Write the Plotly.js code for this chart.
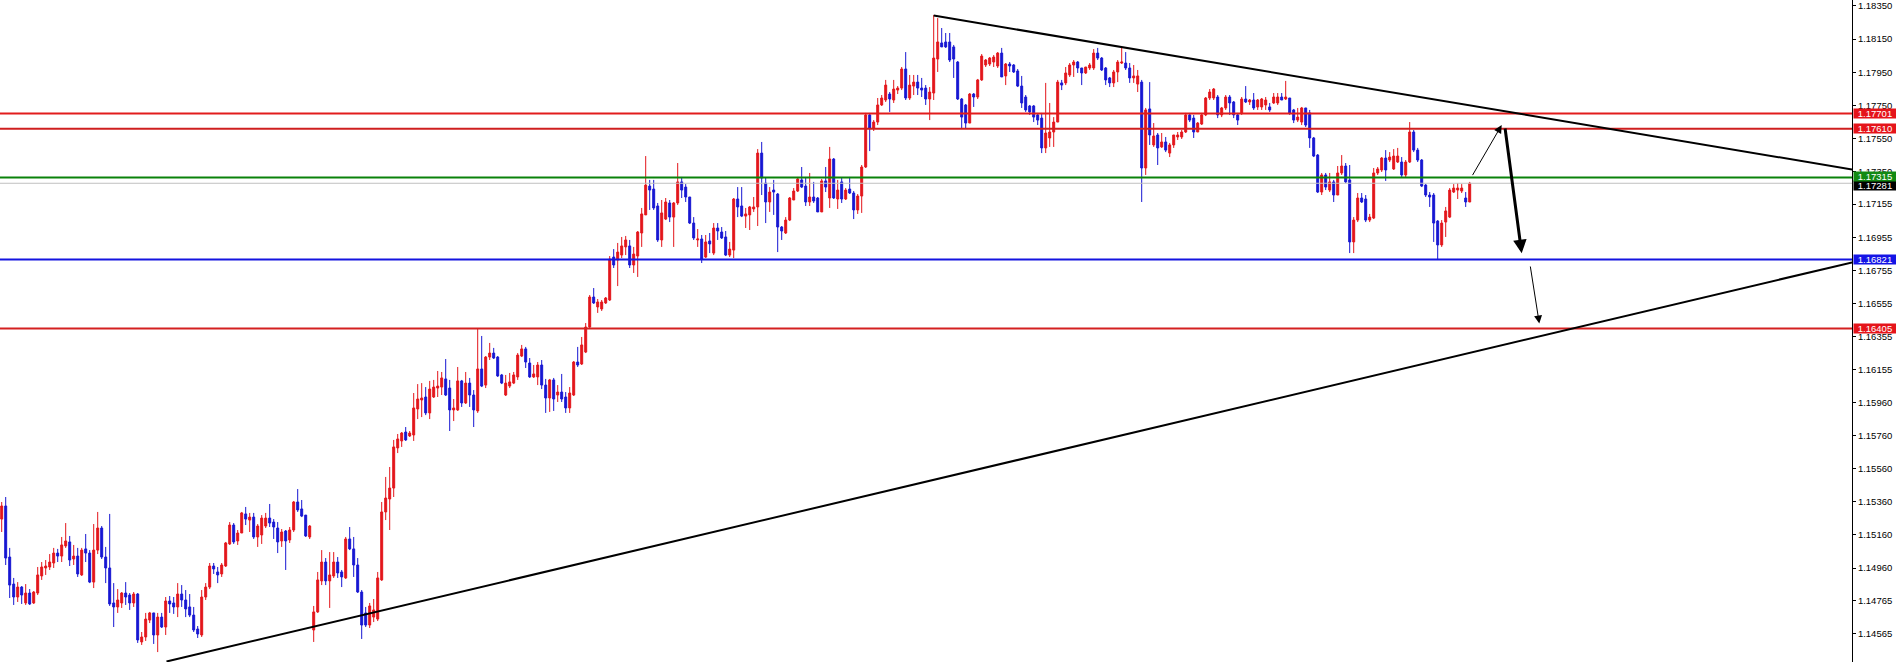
<!DOCTYPE html>
<html>
<head>
<meta charset="utf-8">
<script src="https://cdn.plot.ly/plotly-3.0.1.min.js"></script>
<style>
html,body{margin:0;padding:0;background:#fff;}
#chart{width:1896px;height:662px;}
</style>
</head>
<body>
<div id="chart"></div>
<script>
// ---- Candle data ----
var openP = [1.15256,1.15335,1.15027,1.14864,1.14786,1.14846,1.14750,1.14810,1.14750,1.14810,
1.14913,1.14961,1.14967,1.14991,1.15051,1.15033,1.15094,1.15118,1.15015,1.15033,
1.14919,1.15076,1.15051,1.14876,1.15069,1.15202,1.15027,1.14961,1.14750,1.14726,
1.14750,1.14810,1.14798,1.14750,1.14804,1.14515,1.14545,1.14647,1.14690,1.14557,
1.14665,1.14605,1.14762,1.14750,1.14726,1.14804,1.14768,1.14726,1.14677,1.14593,
1.14557,1.14786,1.14846,1.14973,1.14937,1.14925,1.14973,1.15106,1.15220,1.15124,
1.15172,1.15287,1.15250,1.15268,1.15148,1.15160,1.15214,1.15262,1.15238,1.15202,
1.15124,1.15184,1.15130,1.15190,1.15359,1.15317,1.15280,1.15148,1.14587,1.14696,
1.14883,1.14997,1.14883,1.14913,1.14997,1.14937,1.14901,1.15136,1.15076,1.14979,
1.14816,1.14690,1.14617,1.14665,1.14653,1.14889,1.15299,1.15377,1.15443,1.15685,
1.15727,1.15781,1.15757,1.15763,1.15920,1.15974,1.15992,1.15896,1.15992,1.16046,
1.16052,1.16101,1.16046,1.15914,1.15914,1.16089,1.15956,1.16076,1.16004,1.15908,
1.16161,1.16064,1.16233,1.16257,1.16233,1.16125,1.16004,1.16058,1.16076,1.16113,
1.16239,1.16282,1.16197,1.16113,1.16113,1.16185,1.16064,1.15986,1.16095,1.16004,
1.16022,1.15992,1.15926,1.16004,1.16203,1.16191,1.16263,1.16414,1.16595,1.16535,
1.16523,1.16559,1.16577,1.16836,1.16818,1.16848,1.16897,1.16903,1.16788,1.16842,
1.16981,1.17090,1.17264,1.17246,1.17144,1.16939,1.17065,1.17162,1.17077,1.17162,
1.17289,1.17258,1.17198,1.17041,1.16939,1.16945,1.16836,1.16933,1.16860,1.17011,
1.16987,1.16957,1.16848,1.16878,1.17186,1.17144,1.17083,1.17090,1.17126,1.17138,
1.17463,1.17282,1.17168,1.17240,1.17216,1.17017,1.16981,1.17059,1.17180,1.17234,
1.17301,1.17264,1.17168,1.17198,1.17192,1.17108,1.17295,1.17192,1.17427,1.17186,
1.17289,1.17186,1.17246,1.17222,1.17120,1.17204,1.17379,1.17693,1.17614,1.17650,
1.17753,1.17783,1.17819,1.17783,1.17843,1.17855,1.17970,1.17795,1.17867,1.17891,
1.17855,1.17855,1.17789,1.17825,1.18030,1.18127,1.18133,1.18133,1.18103,1.18012,
1.17789,1.17753,1.17644,1.17819,1.17801,1.17904,1.17994,1.18000,1.18012,1.17988,
1.18066,1.17928,1.18000,1.17994,1.17958,1.17867,1.17801,1.17747,1.17747,1.17693,
1.17674,1.17494,1.17554,1.17590,1.17650,1.17886,1.17886,1.17934,1.17994,1.18012,
1.17976,1.17946,1.17976,1.17976,1.18066,1.18036,1.17976,1.17916,1.17886,1.17952,
1.18006,1.18006,1.17976,1.17916,1.17879,1.17891,1.17373,1.17729,1.17512,1.17572,
1.17500,1.17530,1.17463,1.17512,1.17560,1.17560,1.17590,1.17693,1.17674,1.17590,
1.17638,1.17693,1.17795,1.17795,1.17801,1.17693,1.17735,1.17801,1.17771,1.17693,
1.17705,1.17789,1.17771,1.17783,1.17741,1.17741,1.17753,1.17741,1.17765,1.17765,
1.17801,1.17789,1.17795,1.17723,1.17662,1.17650,1.17735,1.17705,1.17554,1.17451,
1.17228,1.17331,1.17240,1.17289,1.17210,1.17343,1.17385,1.17301,1.16927,1.17059,
1.17192,1.17186,1.17059,1.17071,1.17343,1.17361,1.17433,1.17421,1.17367,1.17409,
1.17409,1.17331,1.17409,1.17590,1.17481,1.17421,1.17270,1.17210,1.17210,1.17053,
1.16909,1.17047,1.17077,1.17228,1.17240,1.17234,1.17192,1.17168];

var highP = [1.15359,1.15389,1.15082,1.14901,1.14876,1.14852,1.14864,1.14834,1.14822,1.14967,
1.14997,1.15009,1.15045,1.15082,1.15076,1.15148,1.15232,1.15154,1.15100,1.15082,
1.15082,1.15166,1.15069,1.15226,1.15299,1.15214,1.15088,1.15287,1.14870,1.14834,
1.14816,1.14876,1.14810,1.14816,1.14810,1.14575,1.14690,1.14696,1.14690,1.14690,
1.14690,1.14786,1.14792,1.14786,1.14870,1.14858,1.14828,1.14804,1.14726,1.14611,
1.14828,1.14870,1.14991,1.14991,1.14967,1.14991,1.15118,1.15238,1.15232,1.15190,
1.15299,1.15329,1.15293,1.15293,1.15226,1.15280,1.15293,1.15347,1.15256,1.15238,
1.15196,1.15190,1.15208,1.15365,1.15437,1.15371,1.15280,1.15220,1.14732,1.14937,
1.15069,1.15021,1.15057,1.15057,1.15027,1.14949,1.15148,1.15208,1.15148,1.15021,
1.14828,1.14726,1.14750,1.14774,1.14937,1.15359,1.15510,1.15570,1.15733,1.15769,
1.15781,1.15811,1.15787,1.16016,1.16070,1.16076,1.16052,1.16089,1.16095,1.16149,
1.16143,1.16221,1.16095,1.15980,1.16173,1.16095,1.16143,1.16107,1.16034,1.16408,
1.16360,1.16239,1.16318,1.16288,1.16239,1.16131,1.16125,1.16137,1.16143,1.16257,
1.16306,1.16294,1.16227,1.16185,1.16203,1.16215,1.16101,1.16101,1.16107,1.16064,
1.16131,1.16022,1.16052,1.16209,1.16294,1.16354,1.16438,1.16607,1.16649,1.16583,
1.16577,1.16595,1.16842,1.16884,1.16921,1.16957,1.16963,1.16939,1.16897,1.16993,
1.17132,1.17445,1.17301,1.17301,1.17162,1.17180,1.17192,1.17180,1.17168,1.17403,
1.17319,1.17276,1.17198,1.17077,1.17005,1.16969,1.16969,1.16981,1.17041,1.17041,
1.17017,1.16993,1.16927,1.17192,1.17258,1.17258,1.17132,1.17144,1.17198,1.17487,
1.17530,1.17313,1.17258,1.17301,1.17222,1.17023,1.17077,1.17198,1.17252,1.17319,
1.17379,1.17319,1.17343,1.17289,1.17198,1.17307,1.17379,1.17500,1.17433,1.17301,
1.17313,1.17252,1.17319,1.17234,1.17216,1.17391,1.17705,1.17705,1.17662,1.17795,
1.17813,1.17904,1.17831,1.17904,1.17867,1.17982,1.18072,1.17934,1.17934,1.17934,
1.17916,1.17873,1.17861,1.18295,1.18277,1.18217,1.18187,1.18187,1.18115,1.18018,
1.17795,1.17759,1.17825,1.17825,1.17910,1.18060,1.18030,1.18042,1.18054,1.18072,
1.18097,1.18006,1.18012,1.18000,1.17970,1.17928,1.17813,1.17753,1.17753,1.17705,
1.17705,1.17886,1.17765,1.17680,1.17904,1.17904,1.17982,1.18006,1.18024,1.18018,
1.17976,1.17982,1.18006,1.18090,1.18097,1.18042,1.17982,1.17922,1.17964,1.18024,
1.18097,1.18072,1.18006,1.17994,1.17964,1.17904,1.17735,1.17891,1.17644,1.17584,
1.17584,1.17560,1.17524,1.17572,1.17590,1.17602,1.17705,1.17705,1.17693,1.17650,
1.17705,1.17801,1.17849,1.17855,1.17813,1.17741,1.17813,1.17813,1.17777,1.17705,
1.17801,1.17867,1.17789,1.17825,1.17789,1.17795,1.17801,1.17765,1.17825,1.17825,
1.17825,1.17898,1.17795,1.17729,1.17735,1.17741,1.17735,1.17723,1.17560,1.17457,
1.17343,1.17343,1.17343,1.17301,1.17385,1.17451,1.17403,1.17391,1.17077,1.17222,
1.17222,1.17210,1.17096,1.17373,1.17379,1.17439,1.17481,1.17469,1.17487,1.17494,
1.17439,1.17421,1.17650,1.17602,1.17494,1.17427,1.17276,1.17228,1.17222,1.17059,
1.17059,1.17138,1.17252,1.17276,1.17282,1.17276,1.17228,1.17289];

var lowP = [1.15178,1.14979,1.14780,1.14738,1.14756,1.14744,1.14738,1.14738,1.14744,1.14798,
1.14889,1.14919,1.14949,1.14961,1.14997,1.14997,1.15082,1.14973,1.14979,1.14907,
1.14913,1.14997,1.14870,1.14840,1.15045,1.15015,1.14870,1.14732,1.14605,1.14690,
1.14720,1.14738,1.14708,1.14726,1.14509,1.14497,1.14521,1.14629,1.14503,1.14454,
1.14599,1.14557,1.14690,1.14684,1.14665,1.14726,1.14665,1.14665,1.14575,1.14539,
1.14545,1.14768,1.14834,1.14925,1.14870,1.14907,1.14967,1.15100,1.15106,1.15100,
1.15172,1.15220,1.15178,1.15136,1.15088,1.15106,1.15202,1.15208,1.15136,1.15051,
1.15088,1.14949,1.15112,1.15178,1.15299,1.15268,1.15148,1.15136,1.14515,1.14690,
1.14858,1.14858,1.14720,1.14901,1.14901,1.14846,1.14895,1.15069,1.14907,1.14810,
1.14533,1.14605,1.14599,1.14635,1.14641,1.14883,1.15250,1.15190,1.15389,1.15654,
1.15691,1.15727,1.15751,1.15727,1.15859,1.15871,1.15883,1.15859,1.15986,1.15992,
1.16004,1.15998,1.15787,1.15847,1.15908,1.15932,1.15950,1.15932,1.15811,1.15896,
1.16052,1.16046,1.16215,1.16221,1.16113,1.16070,1.15998,1.16046,1.16070,1.16095,
1.16233,1.16167,1.16107,1.16107,1.16064,1.16040,1.15896,1.15902,1.15908,1.15962,
1.15962,1.15896,1.15896,1.15998,1.16173,1.16185,1.16257,1.16408,1.16553,1.16499,
1.16511,1.16553,1.16571,1.16770,1.16661,1.16830,1.16848,1.16770,1.16740,1.16716,
1.16897,1.17090,1.17120,1.17120,1.16927,1.16897,1.17059,1.17047,1.16897,1.17150,
1.17192,1.17168,1.17035,1.16939,1.16897,1.16800,1.16830,1.16860,1.16848,1.16939,
1.16945,1.16842,1.16836,1.16830,1.17077,1.17077,1.17011,1.16999,1.17108,1.17023,
1.17210,1.17041,1.17108,1.17090,1.16866,1.16939,1.16975,1.17053,1.17180,1.17228,
1.17252,1.17144,1.17144,1.17162,1.17108,1.17108,1.17228,1.17132,1.17186,1.17126,
1.17162,1.17180,1.17216,1.17065,1.17096,1.17102,1.17373,1.17475,1.17596,1.17632,
1.17747,1.17771,1.17711,1.17765,1.17819,1.17843,1.17783,1.17783,1.17813,1.17813,
1.17801,1.17753,1.17662,1.17783,1.17952,1.18103,1.18097,1.18012,1.17916,1.17783,
1.17614,1.17614,1.17644,1.17741,1.17789,1.17898,1.17982,1.17988,1.17982,1.17976,
1.17922,1.17873,1.17952,1.17946,1.17861,1.17735,1.17711,1.17693,1.17650,1.17632,
1.17463,1.17463,1.17500,1.17500,1.17650,1.17843,1.17873,1.17922,1.17922,1.17946,
1.17873,1.17940,1.17964,1.17964,1.18024,1.17958,1.17873,1.17861,1.17861,1.17891,
1.18000,1.17964,1.17886,1.17886,1.17831,1.17168,1.17331,1.17512,1.17500,1.17391,
1.17494,1.17469,1.17439,1.17494,1.17542,1.17548,1.17584,1.17650,1.17554,1.17590,
1.17632,1.17686,1.17783,1.17783,1.17674,1.17680,1.17723,1.17693,1.17674,1.17632,
1.17693,1.17765,1.17753,1.17723,1.17723,1.17723,1.17723,1.17711,1.17759,1.17753,
1.17783,1.17783,1.17693,1.17644,1.17650,1.17632,1.17620,1.17494,1.17439,1.17222,
1.17210,1.17240,1.17228,1.17168,1.17210,1.17331,1.17282,1.16860,1.16860,1.17047,
1.17162,1.17047,1.17047,1.17065,1.17331,1.17349,1.17295,1.17409,1.17361,1.17403,
1.17319,1.17313,1.17403,1.17469,1.17409,1.17258,1.17198,1.17138,1.16927,1.16818,
1.16897,1.16957,1.17071,1.17222,1.17186,1.17222,1.17138,1.17168];

var closeP = [1.15335,1.15021,1.14858,1.14786,1.14846,1.14798,1.14810,1.14744,1.14816,1.14919,
1.14967,1.14973,1.14997,1.15051,1.15033,1.15100,1.15124,1.15009,1.15033,1.14925,
1.15069,1.15051,1.14876,1.15069,1.15202,1.15027,1.14961,1.14744,1.14726,1.14768,
1.14810,1.14786,1.14750,1.14804,1.14527,1.14545,1.14653,1.14690,1.14557,1.14665,
1.14605,1.14762,1.14744,1.14726,1.14804,1.14768,1.14714,1.14677,1.14587,1.14563,
1.14786,1.14846,1.14973,1.14955,1.14919,1.14979,1.15112,1.15220,1.15118,1.15172,
1.15293,1.15256,1.15268,1.15148,1.15214,1.15262,1.15262,1.15232,1.15208,1.15118,
1.15178,1.15124,1.15190,1.15359,1.15311,1.15274,1.15154,1.15214,1.14696,1.14889,
1.14997,1.14883,1.14919,1.14997,1.14931,1.14907,1.15136,1.15076,1.14979,1.14816,
1.14617,1.14617,1.14732,1.14708,1.14901,1.15299,1.15383,1.15443,1.15691,1.15739,
1.15775,1.15733,1.15775,1.15926,1.15980,1.15986,1.15896,1.16040,1.16052,1.16058,
1.16107,1.16004,1.15914,1.15926,1.16089,1.15956,1.16076,1.16004,1.15914,1.16161,
1.16058,1.16233,1.16257,1.16227,1.16119,1.16076,1.16076,1.16083,1.16125,1.16245,
1.16282,1.16203,1.16113,1.16131,1.16185,1.16064,1.15986,1.16095,1.15980,1.16022,
1.15980,1.15926,1.16016,1.16203,1.16185,1.16306,1.16414,1.16595,1.16559,1.16565,
1.16565,1.16589,1.16824,1.16788,1.16866,1.16903,1.16939,1.16788,1.16854,1.16987,
1.17096,1.17270,1.17240,1.17132,1.16939,1.17102,1.17168,1.17077,1.17162,1.17289,
1.17240,1.17198,1.17041,1.16951,1.16945,1.16824,1.16927,1.16915,1.17011,1.16993,
1.16951,1.16848,1.16884,1.17186,1.17138,1.17083,1.17096,1.17138,1.17138,1.17463,
1.17313,1.17168,1.17228,1.17228,1.17017,1.16993,1.17059,1.17192,1.17234,1.17307,
1.17258,1.17168,1.17198,1.17174,1.17108,1.17295,1.17258,1.17427,1.17192,1.17240,
1.17186,1.17240,1.17222,1.17120,1.17204,1.17379,1.17693,1.17614,1.17650,1.17753,
1.17795,1.17873,1.17789,1.17849,1.17855,1.17970,1.17795,1.17873,1.17891,1.17855,
1.17843,1.17789,1.17831,1.18036,1.18133,1.18103,1.18103,1.18024,1.18030,1.17789,
1.17680,1.17644,1.17819,1.17801,1.17904,1.18048,1.18024,1.18036,1.18042,1.18066,
1.17922,1.18000,1.17988,1.17952,1.17867,1.17765,1.17723,1.17711,1.17680,1.17662,
1.17494,1.17584,1.17590,1.17650,1.17891,1.17873,1.17946,1.17994,1.18012,1.17976,
1.17946,1.17982,1.17994,1.18066,1.18036,1.17964,1.17904,1.17886,1.17952,1.18012,
1.18012,1.17976,1.17916,1.17928,1.17928,1.17373,1.17723,1.17572,1.17566,1.17494,
1.17530,1.17481,1.17512,1.17572,1.17572,1.17590,1.17693,1.17662,1.17590,1.17644,
1.17693,1.17795,1.17831,1.17849,1.17693,1.17735,1.17801,1.17765,1.17693,1.17662,
1.17789,1.17771,1.17783,1.17735,1.17783,1.17789,1.17783,1.17723,1.17801,1.17801,
1.17783,1.17801,1.17705,1.17662,1.17680,1.17735,1.17632,1.17554,1.17445,1.17228,
1.17331,1.17258,1.17289,1.17210,1.17343,1.17385,1.17289,1.16927,1.17059,1.17192,
1.17168,1.17059,1.17077,1.17343,1.17367,1.17433,1.17361,1.17439,1.17445,1.17445,
1.17331,1.17409,1.17590,1.17481,1.17421,1.17264,1.17210,1.17198,1.17041,1.16909,
1.17041,1.17114,1.17240,1.17252,1.17252,1.17252,1.17168,1.17281];

// ---- Price-axis tick labels (as printed by the terminal) ----
var tickValues = [1.18350,1.18150,1.17950,1.17750,1.17550,1.17350,1.17155,1.16955,1.16755,1.16555,
1.16355,1.16155,1.15960,1.15760,1.15560,1.15360,1.15160,1.14960,1.14765,1.14565];
var tickLabels = tickValues.map(function(v){ return v.toFixed(5); });

// ---- Horizontal price levels ----
var levelPrices = [1.17701, 1.17610, 1.17315, 1.17281, 1.16821, 1.16405];
var levelColors = ['#e21c1c', '#cf1f1f', '#0a820a', '#c0c0c0', '#1414e0', '#d42020'];
var levelWidths = [2, 2, 2, 1, 2, 2];
var levelBoxColors = ['#e5141a', '#e5141a', '#138a13', '#000000', '#1414e6', '#e5141a'];
var levelLabelShift = [0, 0, 1, -2, 0, 0];
// label draw order: bid (black) first so the green label sits above it
var labelOrder = [3, 0, 1, 2, 4, 5];

// ---- Trend lines (bar index, price) ----
var upperTrend = {x: [233, 462.6], y: [1.18292, 1.17364]};
var lowerTrend = {x: [41.2, 462.6], y: [1.14397, 1.16804]};

// ---- Projection arrows (bar index, price): tail -> head ----
var projArrows = [
  {x0: 367.5, y0: 1.17321, x1: 375.0, y1: 1.17632, w: 1, size: 1.6},
  {x0: 375.8, y0: 1.17620, x1: 380.0, y1: 1.16859, w: 3, size: 0.9},
  {x0: 382.1, y0: 1.16788, x1: 384.4, y1: 1.16435, w: 1, size: 1.6}
];

var idx = openP.map(function(_, i){ return i; });
var RED = '#e3161b', BLUE = '#1717d2';

var trace = {
  type: 'candlestick',
  x: idx, open: openP, high: highP, low: lowP, close: closeP,
  increasing: {line: {color: RED, width: 1}, fillcolor: RED},
  decreasing: {line: {color: BLUE, width: 1}, fillcolor: BLUE},
  whiskerwidth: 0,
  hoverinfo: 'none',
  showlegend: false
};

var shapes = [];
levelPrices.forEach(function(p, k){
  shapes.push({type:'line', xref:'paper', yref:'y', x0:0, x1:1, y0:p, y1:p,
    line:{color: levelColors[k], width: levelWidths[k]}, layer:'above'});
});
[upperTrend, lowerTrend].forEach(function(t){
  shapes.push({type:'line', xref:'x', yref:'y', x0:t.x[0], y0:t.y[0], x1:t.x[1], y1:t.y[1],
    line:{color:'#000', width:2}, layer:'above'});
});

var annotations = [];
projArrows.forEach(function(a){
  annotations.push({xref:'x', yref:'y', axref:'x', ayref:'y', x:a.x1, y:a.y1, ax:a.x0, ay:a.y0,
    text:'', showarrow:true, arrowhead:2, arrowsize:a.size, arrowwidth:a.w, arrowcolor:'#000', standoff:0});
});
labelOrder.forEach(function(k){
  annotations.push({xref:'paper', yref:'y', x:1, y:levelPrices[k], xanchor:'left', yanchor:'middle',
    xshift:1, yshift: levelLabelShift[k], text: levelPrices[k].toFixed(5), showarrow:false, bgcolor: levelBoxColors[k],
    font:{family:'Liberation Sans, Arial, sans-serif', size:9.5, color:'#ffffff'},
    width:42, height:9, align:'center', valign:'middle', borderpad:0});
});

var layout = {
  width: 1896, height: 662,
  margin: {l:0, r:44, t:0, b:0, pad:0},
  paper_bgcolor:'#ffffff', plot_bgcolor:'#ffffff',
  showlegend:false,
  xaxis: {range:[-0.425, 462.575], visible:false, rangeslider:{visible:false}, fixedrange:true},
  yaxis: {range:[1.143941, 1.18386], side:'right', showgrid:false, zeroline:false,
    showline:true, linecolor:'#000', linewidth:1, ticks:'outside', ticklen:3, tickcolor:'#000',
    tickvals: tickValues, ticktext: tickLabels,
    tickfont:{family:'Liberation Sans, Arial, sans-serif', size:9.5, color:'#000'}, fixedrange:true},
  shapes: shapes,
  annotations: annotations,
  hovermode:false
};

Plotly.newPlot('chart', [trace], layout, {staticPlot:true, displayModeBar:false});
</script>
</body>
</html>
